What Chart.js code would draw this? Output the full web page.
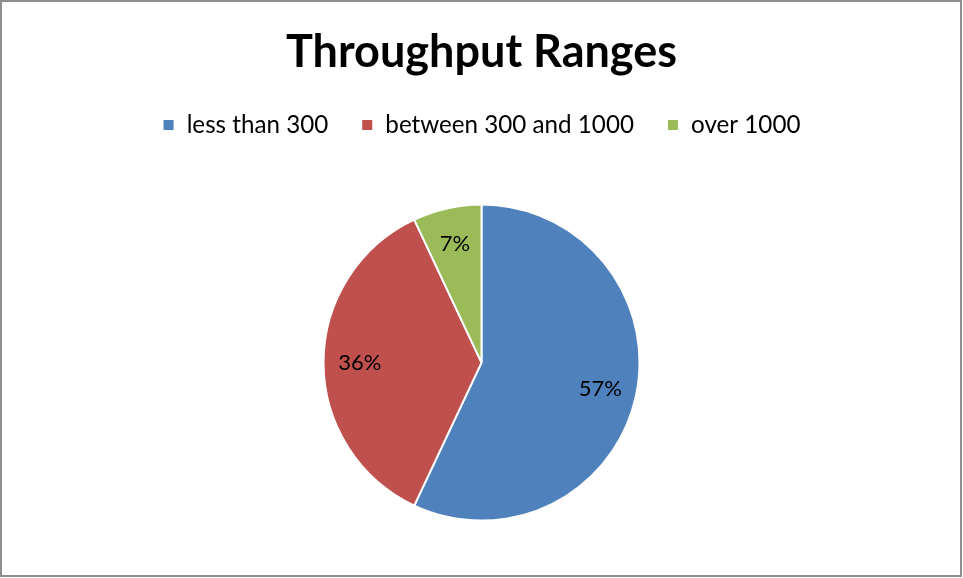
<!DOCTYPE html>
<html><head><meta charset="utf-8">
<script src="https://cdn.jsdelivr.net/npm/chart.js@4"></script>
<style>html,body{margin:0;padding:0;background:#fff;}#wrap{width:963px;height:578px;position:relative;}</style>
</head><body>
<div id="wrap"><canvas id="c" width="963" height="578"></canvas></div>
<script>
const categories = ["less than 300", "between 300 and 1000", "over 1000"];
const values = [57, 36, 7];
const colors = ["#4F81BD", "#C0504D", "#9BBB59"];
const titleText = "Throughput Ranges";

const FONT = "Lato, 'Open Sans', sans-serif";

const borderPlugin = {
  id: 'frame',
  afterDraw(chart) {
    const ctx = chart.ctx;
    ctx.save();
    ctx.strokeStyle = '#8e8e8e';
    ctx.lineWidth = 2;
    ctx.strokeRect(1, 1, 960, 575);
    ctx.restore();
  }
};

const labelPlugin = {
  id: 'sliceLabels',
  afterDatasetsDraw(chart) {
    const ctx = chart.ctx;
    const meta = chart.getDatasetMeta(0);
    const total = values.reduce((a, b) => a + b, 0);
    ctx.save();
    ctx.font = "22px " + FONT;
    ctx.fillStyle = '#000';
    ctx.textAlign = 'center';
    ctx.textBaseline = 'middle';
    meta.data.forEach((arc, i) => {
      const p = arc.getProps(['x', 'y', 'startAngle', 'endAngle', 'outerRadius']);
      const mid = (p.startAngle + p.endAngle) / 2;
      const r = p.outerRadius * 0.77;
      const pct = Math.round(values[i] / total * 100) + '%';
      ctx.fillText(pct, p.x + Math.cos(mid) * r, p.y + Math.sin(mid) * r);
    });
    ctx.restore();
  }
};

new Chart(document.getElementById('c'), {
  type: 'pie',
  data: {
    labels: categories,
    datasets: [{
      data: values,
      backgroundColor: colors,
      borderColor: '#ffffff',
      borderWidth: 2,
      radius: 158
    }]
  },
  options: {
    responsive: false,
    animation: false,
    layout: { padding: { top: 0, bottom: 0, left: 0, right: 0 } },
    plugins: {
      title: {
        display: true,
        text: titleText,
        color: '#000',
        font: { family: FONT, size: 45, weight: 'bold' },
        padding: { top: 25, bottom: 1 }
      },
      legend: {
        position: 'top',
        labels: {
          color: '#000',
          font: { family: FONT, size: 24.2 },
          boxWidth: 12,
          boxHeight: 12,
          padding: 33
        }
      },
      tooltip: { enabled: false }
    }
  },
  plugins: [labelPlugin, borderPlugin]
});
</script>
</body></html>
